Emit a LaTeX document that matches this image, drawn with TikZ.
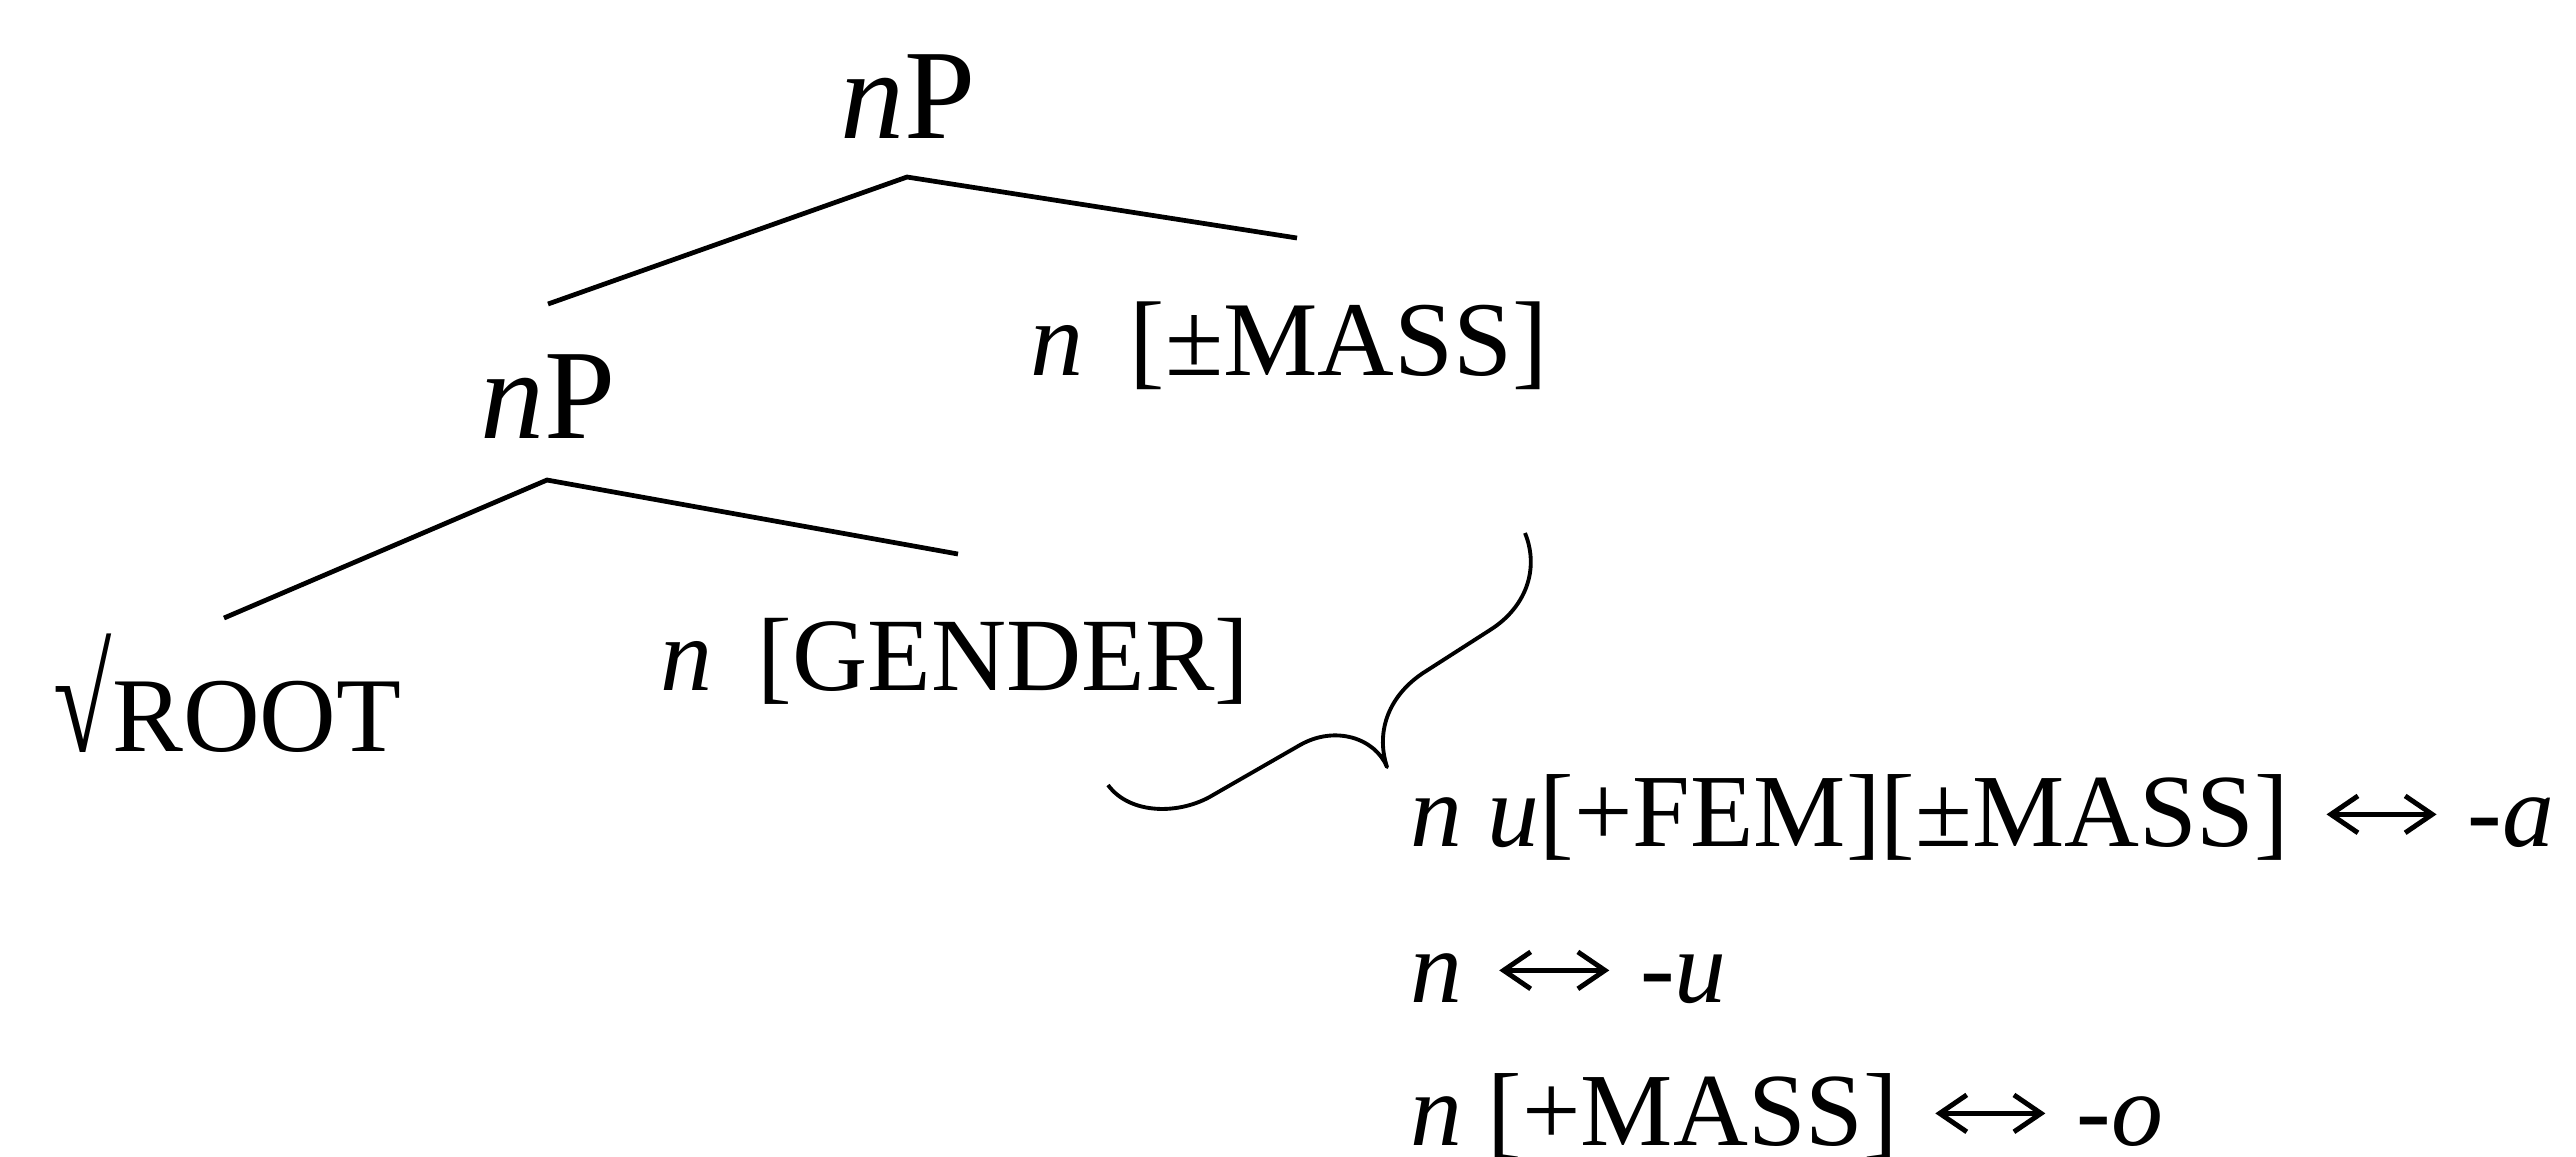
\documentclass[tikz,border=0pt]{standalone}
\usepackage{fontspec}
\usepackage{graphicx}
\usetikzlibrary{arrows.meta}
\setmainfont{Liberation Serif}
\newcommand\lrarrow{\hspace{0.36em}\tikz[baseline=0pt]{\useasboundingbox (0pt,0pt) rectangle (31.3pt,1pt);
  \draw[line width=1.4pt,{Straight Barb[length=7.7pt,width=10.5pt]}-{Straight Barb[length=7.7pt,width=10.5pt]}] (0pt,9pt) -- (31.3pt,9pt);}\hspace{0.3em}}
\newcommand\tallsurd{\scalebox{1}[1.4]{√}}
\newcommand\gap{\hspace{0.44em}}
\tikzset{
  lab/.style={anchor=base west, inner sep=0pt, outer sep=0pt, font=\fontsize{30.2}{36}\selectfont},
  smalllab/.style={lab, font=\fontsize{29.6}{36}\selectfont},
  rule/.style={lab, font=\fontsize{29.5}{36}\selectfont},
  big/.style={lab, font=\fontsize{36.4}{44}\selectfont},
  branch/.style={line width=1.35pt},
  bracepath/.style={line width=1.1pt, line join=round}
}
\begin{document}
\begin{tikzpicture}[x=0.01cm,y=-0.01cm]
\useasboundingbox (0,0) rectangle (2576,1156);
% labels
\node[big] (top) at (840,138) {\textit{n}P};
\node[big] (np2) at (480,438) {\textit{n}P};
\node[lab] (mass) at (1030,375) {\textit{n}\gap[±MASS]};
\node[lab] (root) at (54,751) {\tallsurd ROOT};
\node[smalllab] (gender) at (660,690) {\textit{n}\gap[GENDER]};
\node[rule] (r1) at (1410,846) {\textit{n u}[+FEM][±MASS]\lrarrow\textit{-a}};
\node[rule] (r2) at (1410,1002) {\textit{n}\lrarrow\textit{-u}};
\node[rule] (r3) at (1410,1145) {\textit{n} [+MASS]\lrarrow\textit{-o}};
% branch points
\coordinate (topB) at (907,177);
\coordinate (npT) at (548,304);
\coordinate (massT) at (1297,238);
\coordinate (npB) at (547,480);
\coordinate (rootT) at (224,618);
\coordinate (genderT) at (958,554);
\draw[branch] (npT) -- (topB) -- (massT);
\draw[branch] (rootT) -- (npB) -- (genderT);
% brace
\coordinate (brA) at (1108,785);
\coordinate (brTip) at (1387,767);
\coordinate (brB) at (1525,533);
\draw[bracepath] (brA) .. controls (1130,815) and (1180,815) .. (1213,795)
  -- (1300,745) .. controls (1335,725) and (1375,738) .. (brTip)
  .. controls (1375,730) and (1390,695) .. (1423,673)
  -- (1490,630) .. controls (1525,608) and (1540,570) .. (brB);
\end{tikzpicture}
\end{document}
